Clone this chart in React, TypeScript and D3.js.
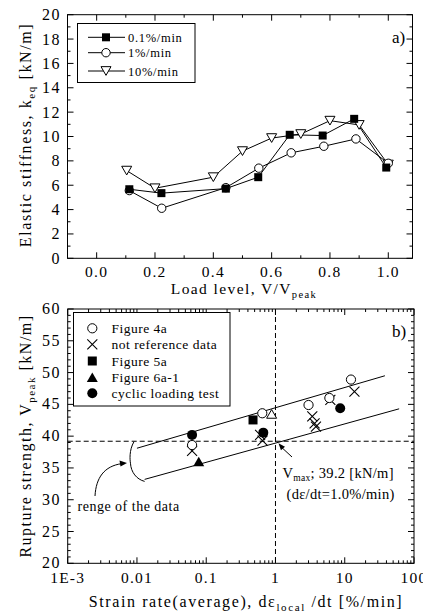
import React from "react";
import * as d3 from "d3";

// ---------- data: panel a ----------
const rate01X = [0.112, 0.222, 0.443, 0.554, 0.662, 0.775, 0.883, 0.993];
const rate01K = [5.67, 5.35, 5.72, 6.66, 10.14, 10.08, 11.45, 7.45];
const rate1X = [0.112, 0.223, 0.443, 0.556, 0.667, 0.779, 0.889, 1.0];
const rate1K = [5.56, 4.11, 5.8, 7.4, 8.66, 9.2, 9.8, 7.8];
const rate10X = [0.103, 0.2, 0.4, 0.5, 0.6, 0.7, 0.8, 0.9, 1.0];
const rate10K = [7.2, 5.75, 6.66, 8.8, 9.87, 10.2, 11.3, 10.95, 7.7];
const aXTicks = [0.0, 0.2, 0.4, 0.6, 0.8, 1.0];
const aYTicks = [0, 2, 4, 6, 8, 10, 12, 14, 16, 18, 20];
const aLegend = ["0.1%/min", "1%/min", "10%/min"];

// ---------- data: panel b ----------
const fig4aX = [0.0625, 0.645, 3.0, 6.0, 12.3];
const fig4aV = [38.6, 43.6, 44.9, 46.0, 48.9];
const notRefX = [0.0625, 0.6, 0.65, 3.4, 3.67, 3.84, 6.2, 13.8];
const notRefV = [37.7, 40.2, 39.3, 43.1, 42.0, 41.5, 45.7, 47.0];
const fig5aX = [0.474];
const fig5aV = [42.55];
const fig6aX = [0.078];
const fig6aV = [36.0];
const cyclicX = [0.0625, 0.667, 8.6];
const cyclicV = [40.2, 40.55, 44.4];
const openTriX = [0.88];
const openTriV = [43.5];
const upperBandX = [0.01, 38];
const upperBandV = [38.1, 49.5];
const lowerBandX = [0.0129, 61];
const lowerBandV = [33.2, 44.3];
const vmaxRate = 1.0;
const vmaxValue = 39.2;
const bXTicks = [1e-3, 0.01, 0.1, 1, 10, 100];
const bXTickLabels = ["1E-3", "0.01", "0.1", "1", "10", "100"];
const bYTicks = [20, 25, 30, 35, 40, 45, 50, 55, 60];
const bLegend = ["Figure 4a", "not reference data", "Figure 5a", "Figure 6a-1", "cyclic loading test"];

const FONT = "Liberation Serif";

export default function App() {
  // panel a scales
  const ax = d3.scaleLinear().domain([-0.1, 1.083]).range([67.5, 412.5]);
  const ay = d3.scaleLinear().domain([0, 20]).range([258.3, 14.7]);
  // panel b scales
  const bx = d3.scaleLog().domain([1e-3, 100]).range([67.7, 414]);
  const by = d3.scaleLinear().domain([20, 60]).range([563.3, 309]);

  const line = (xs: number[], ys: number[], sx: any, sy: any) =>
    d3.line<number>().x((_, i) => sx(xs[i])).y((_, i) => sy(ys[i]))(xs.map((_, i) => i)) || "";

  const tri = (cx: number, cy: number, s: number, down: boolean) => {
    const h = s * 0.87;
    return down
      ? `M${cx - s / 2},${cy - h / 2}L${cx + s / 2},${cy - h / 2}L${cx},${cy + h / 2}Z`
      : `M${cx - s / 2},${cy + h / 2}L${cx + s / 2},${cy + h / 2}L${cx},${cy - h / 2}Z`;
  };
  const cross = (cx: number, cy: number, s: number) =>
    `M${cx - s},${cy - s}L${cx + s},${cy + s}M${cx - s},${cy + s}L${cx + s},${cy - s}`;

  const aL = ax.range()[0], aR = ax.range()[1], aT = ay.range()[1], aB = ay.range()[0];
  const aXMinor = d3.range(-1, 11).map((d) => d / 10);
  const aYMinor = d3.range(0, 21);
  const bL = bx.range()[0], bR = bx.range()[1], bT = by.range()[1], bB = by.range()[0];
  const bXMinor: number[] = [];
  for (let e = -3; e < 2; e++) for (let m = 2; m <= 9; m++) bXMinor.push(m * Math.pow(10, e));
  const bYMinor = d3.range(20, 61);

  const tickA = [] as any[];
  aXMinor.forEach((v, i) => {
    const x = ax(v);
    const major = aXTicks.some((t) => Math.abs(t - v) < 1e-6);
    const len = major ? 6 : 3;
    tickA.push(<line key={"axb" + i} x1={x} x2={x} y1={aB} y2={aB - len} />);
    tickA.push(<line key={"axt" + i} x1={x} x2={x} y1={aT} y2={aT + len} />);
  });
  aYMinor.forEach((v, i) => {
    const y = ay(v);
    const major = v % 2 === 0;
    const len = major ? 6 : 3;
    tickA.push(<line key={"ayl" + i} x1={aL} x2={aL + len} y1={y} y2={y} />);
    tickA.push(<line key={"ayr" + i} x1={aR} x2={aR - len} y1={y} y2={y} />);
  });

  const tickB = [] as any[];
  bXTicks.forEach((v, i) => {
    const x = bx(v);
    tickB.push(<line key={"bxb" + i} x1={x} x2={x} y1={bB} y2={bB - 6} />);
    tickB.push(<line key={"bxt" + i} x1={x} x2={x} y1={bT} y2={bT + 6} />);
  });
  bXMinor.forEach((v, i) => {
    const x = bx(v);
    tickB.push(<line key={"bxbm" + i} x1={x} x2={x} y1={bB} y2={bB - 3} />);
    tickB.push(<line key={"bxtm" + i} x1={x} x2={x} y1={bT} y2={bT + 3} />);
  });
  bYMinor.forEach((v, i) => {
    const y = by(v);
    const len = v % 5 === 0 ? 6 : 3;
    tickB.push(<line key={"byl" + i} x1={bL} x2={bL + len} y1={y} y2={y} />);
    tickB.push(<line key={"byr" + i} x1={bR} x2={bR - len} y1={y} y2={y} />);
  });

  const vx = bx(vmaxRate), vy = by(vmaxValue);
  const ub0x = bx(upperBandX[0]), ub0y = by(upperBandV[0]);
  const lb0x = bx(lowerBandX[0]), lb0y = by(lowerBandV[0]);

  return (
    <svg
      width={423}
      height={612}
      style={{ position: "absolute", left: 0, top: 0, background: "#fff", fontFamily: FONT }}
    >
      <rect x={0} y={0} width={423} height={612} fill="#fff" />
      {/* ================= panel a ================= */}
      <g stroke="#000" strokeWidth={1} fill="none">
        <rect x={aL} y={aT} width={aR - aL} height={aB - aT} />
        {tickA}
      </g>
      <g fontSize={15.5} textAnchor="middle" letterSpacing={1.3}>
        {aXTicks.map((v, i) => (
          <text key={i} x={ax(v)} y={277}>{v.toFixed(1)}</text>
        ))}
      </g>
      <g fontSize={16} textAnchor="end" letterSpacing={1.5}>
        {aYTicks.map((v, i) => (
          <text key={i} x={61} y={ay(v) + 5.5}>{v}</text>
        ))}
      </g>
      <text x={244} y={294} fontSize={15.5} textAnchor="middle" letterSpacing={1.4}>
        Load level, V/V<tspan fontSize={10.5} dy={4}>peak</tspan>
      </text>
      <text transform={`translate(31,135) rotate(-90)`} fontSize={16} textAnchor="middle" letterSpacing={1.6}>
        Elastic stiffness, k<tspan fontSize={11} dy={4}>eq</tspan><tspan dy={-4}> [kN/m]</tspan>
      </text>
      <text x={392} y={43} fontSize={17}>a)</text>

      {/* series lines */}
      <g stroke="#000" strokeWidth={1} fill="none">
        <path d={line(rate10X, rate10K, ax, ay)} />
        <path d={line(rate1X, rate1K, ax, ay)} />
        <path d={line(rate01X, rate01K, ax, ay)} />
      </g>
      <g stroke="#000" strokeWidth={1} fill="#fff">
        {rate10X.map((v, i) => (
          <path key={i} d={tri(ax(v), ay(rate10K[i]), 10, true)} />
        ))}
        {rate1X.map((v, i) => (
          <circle key={i} cx={ax(v)} cy={ay(rate1K[i])} r={4.2} />
        ))}
      </g>
      <g fill="#000">
        {rate01X.map((v, i) => (
          <rect key={i} x={ax(v) - 4} y={ay(rate01K[i]) - 4} width={8} height={8} />
        ))}
      </g>

      {/* legend a */}
      <g>
        <rect x={77.5} y={23.5} width={117.5} height={59} fill="#fff" stroke="#000" />
        {aLegend.map((t, i) => {
          const y = [37.3, 52.7, 71][i];
          return (
            <g key={i}>
              <line x1={88} x2={125} y1={y} y2={y} stroke="#000" />
              {i === 0 && <rect x={102} y={y - 4} width={8} height={8} fill="#000" />}
              {i === 1 && <circle cx={106} cy={y} r={4.2} fill="#fff" stroke="#000" />}
              {i === 2 && <path d={tri(106, y, 10, true)} fill="#fff" stroke="#000" />}
              <text x={128} y={y + 4.5} fontSize={12.5} letterSpacing={0.7}>{t}</text>
            </g>
          );
        })}
      </g>

      {/* ================= panel b ================= */}
      <g stroke="#000" strokeWidth={1} fill="none">
        <rect x={bL} y={bT} width={bR - bL} height={bB - bT} />
        {tickB}
      </g>
      <g fontSize={15.5} textAnchor="middle" letterSpacing={1.2}>
        {bXTicks.map((v, i) => (
          <text key={i} x={bx(v)} y={583}>{bXTickLabels[i]}</text>
        ))}
      </g>
      <g fontSize={16} textAnchor="end" letterSpacing={1.5}>
        {bYTicks.map((v, i) => (
          <text key={i} x={61} y={by(v) + 5}>{v}</text>
        ))}
      </g>
      <text x={246} y={607} fontSize={16} textAnchor="middle" letterSpacing={1.6}>
        Strain rate(average), dε<tspan fontSize={11} dy={4}>local</tspan><tspan dy={-4}> /dt  [%/min]</tspan>
      </text>
      <text transform={`translate(31,436) rotate(-90)`} fontSize={16} textAnchor="middle" letterSpacing={1.5}>
        Rupture strength, V<tspan fontSize={11} dy={4}>peak</tspan><tspan dy={-4}> [kN/m]</tspan>
      </text>
      <text x={392} y={337} fontSize={17}>b)</text>

      {/* reference lines */}
      <g stroke="#000" strokeWidth={1} strokeDasharray="5,3" fill="none">
        <line x1={bL} x2={bR} y1={vy} y2={vy} />
        <line x1={vx} x2={vx} y1={bT} y2={bB} />
      </g>
      <g stroke="#000" strokeWidth={1} fill="none">
        <path d={line(upperBandX, upperBandV, bx, by)} />
        <path d={line(lowerBandX, lowerBandV, bx, by)} />
        {/* brace */}
        <path d={`M${ub0x - 3},${ub0y - 6.5} C${ub0x - 8},${ub0y + 2} ${ub0x - 7},${ub0y + 12} ${ub0x - 6.5},${ub0y + 15} C${ub0x - 6},${ub0y + 24} ${lb0x - 8},${lb0y} ${lb0x},${lb0y + 2}`} />
        {/* curved arrow */}
        <path d={`M95,496 C96,478 104,466 122,463.6`} />
        {/* vmax arrow */}
        <line x1={292} y1={457} x2={vx + 6} y2={vy + 6} />
      </g>
      <path d={`M127,463 L119.5,460.5 L120.5,466.5 Z`} fill="#000" />
      <path d={`M${vx + 3},${vy + 2} L${vx + 9.5},${vy + 5.5} L${vx + 5.5},${vy + 9} Z`} fill="#000" />

      {/* markers b */}
      <g stroke="#000" strokeWidth={1.1} fill="none">
        {notRefX.map((v, i) => (
          <path key={i} d={cross(bx(v), by(notRefV[i]), 5)} />
        ))}
      </g>
      <g stroke="#000" strokeWidth={1} fill="#fff">
        {fig4aX.map((v, i) => (
          <circle key={i} cx={bx(v)} cy={by(fig4aV[i])} r={4.6} />
        ))}
        {openTriX.map((v, i) => (
          <path key={i} d={tri(bx(v), by(openTriV[i]), 10, false)} />
        ))}
      </g>
      <g fill="#000">
        {fig5aX.map((v, i) => (
          <rect key={i} x={bx(v) - 4.5} y={by(fig5aV[i]) - 4.5} width={9} height={9} />
        ))}
        {fig6aX.map((v, i) => (
          <path key={i} d={tri(bx(v), by(fig6aV[i]), 11, false)} />
        ))}
        {cyclicX.map((v, i) => (
          <circle key={i} cx={bx(v)} cy={by(cyclicV[i])} r={5} />
        ))}
      </g>

      {/* annotations */}
      <text x={282.5} y={478} fontSize={14.5} letterSpacing={0.3}>
        V<tspan fontSize={9.5} dy={3}>max</tspan><tspan dy={-3}>; 39.2 [kN/m]</tspan>
      </text>
      <text x={286.5} y={499} fontSize={14.5} letterSpacing={0.3}>(dε/dt=1.0%/min)</text>
      <text x={77.5} y={511} fontSize={14} letterSpacing={0.5}>renge of the data</text>

      {/* legend b */}
      <g>
        <rect x={73.5} y={312.5} width={156.5} height={93.5} fill="#fff" stroke="#000" />
        {bLegend.map((t, i) => {
          const y = [328.3, 344.3, 361, 377.3, 393.3][i];
          const cx = 92.3;
          return (
            <g key={i}>
              {i === 0 && <circle cx={cx} cy={y} r={4.6} fill="#fff" stroke="#000" />}
              {i === 1 && <path d={cross(cx, y, 5)} stroke="#000" strokeWidth={1.1} />}
              {i === 2 && <rect x={cx - 4.5} y={y - 4.5} width={9} height={9} fill="#000" />}
              {i === 3 && <path d={tri(cx, y, 11, false)} fill="#000" />}
              {i === 4 && <circle cx={cx} cy={y} r={5} fill="#000" />}
              <text x={111.5} y={y + 4.5} fontSize={13.5} letterSpacing={0.5}>{t}</text>
            </g>
          );
        })}
      </g>
    </svg>
  );
}
